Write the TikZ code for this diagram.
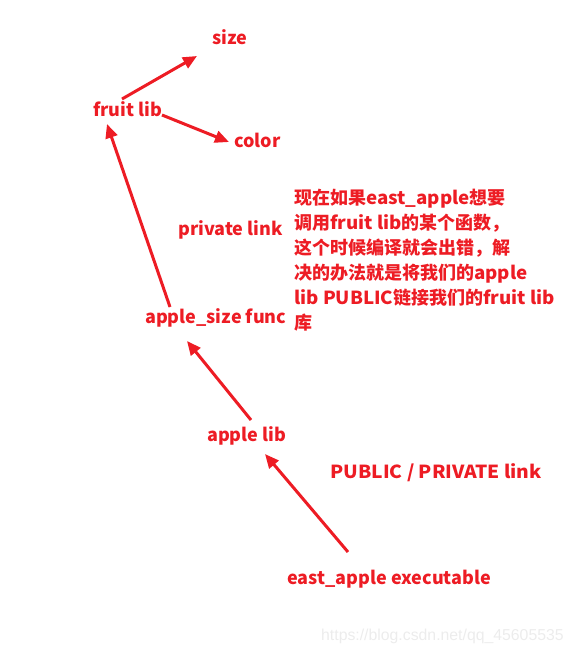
\documentclass[tikz,border=0pt]{standalone}
\usepackage{fontspec}
\setmainfont{Noto Sans CJK SC}
\newfontfamily\latfont{Noto Sans CJK SC}[FakeStretch=1.04]
\newfontfamily\capfont{Noto Sans CJK SC}[FakeStretch=1.07]
\newfontfamily\wmfont{Liberation Sans}
\newcommand\lat[1]{{\latfont\bfseries #1}}
\usetikzlibrary{arrows.meta}
\definecolor{penred}{RGB}{237,28,36}
\definecolor{wmgray}{RGB}{236,236,236}
\tikzset{
  lbl/.style={text=penred, font=\fontsize{18}{22}\selectfont\bfseries, inner sep=0pt, anchor=west},
  conn/.style={draw=penred, line width=3pt, -{Triangle[length=14pt,width=12pt]}}
}
\begin{document}
\begin{tikzpicture}[x=1pt,y=-1pt]
\useasboundingbox (0,0) rectangle (574,653);
\node[lbl] (size) at (212,37) {size};
\node[lbl] (fruit) at (93,109) {fruit lib};
\node[lbl] (color) at (234,140) {color};
\node[lbl] (priv) at (178,230) {private link};
\node[lbl] (asf) at (145,318) {apple\_size func};
\node[lbl] (alib) at (207,436) {apple lib};
\node[lbl, font=\capfont\fontsize{18}{22}\selectfont\bfseries] (pp) at (330,473) {PUBLIC / PRIVATE link};
\node[lbl] (east) at (287,579) {east\_apple executable};
\node[lbl, anchor=north west, align=left, font=\fontsize{18}{25}\selectfont\bfseries] (note) at (294,189)
  {现在如果\lat{east\_apple}想要\\调用\lat{fruit lib}的某个函数，\\这个时候编译就会出错，解\\决的办法就是将我们的\lat{apple}\\\lat{lib PUBLIC}链接我们的\lat{fruit lib}\\库};
\node[text=wmgray, font=\wmfont\fontsize{15.8}{18}\selectfont, inner sep=0pt, anchor=west] (wm) at (321,636) {https://blog.csdn.net/qq\_45605535};
\coordinate (f1) at (122,99);
\coordinate (s1) at (197,56);
\coordinate (f2) at (162,115);
\coordinate (c1) at (229,142);
\coordinate (a1) at (170,307);
\coordinate (f3) at (107,124);
\coordinate (l1) at (251,420);
\coordinate (a2) at (187,341);
\coordinate (e1) at (348,552);
\coordinate (l2) at (265,454);
\draw[conn] (f1) -- (s1);
\draw[conn] (f2) -- (c1);
\draw[conn] (a1) -- (f3);
\draw[conn] (l1) -- (a2);
\draw[conn] (e1) -- (l2);
\end{tikzpicture}
\end{document}
